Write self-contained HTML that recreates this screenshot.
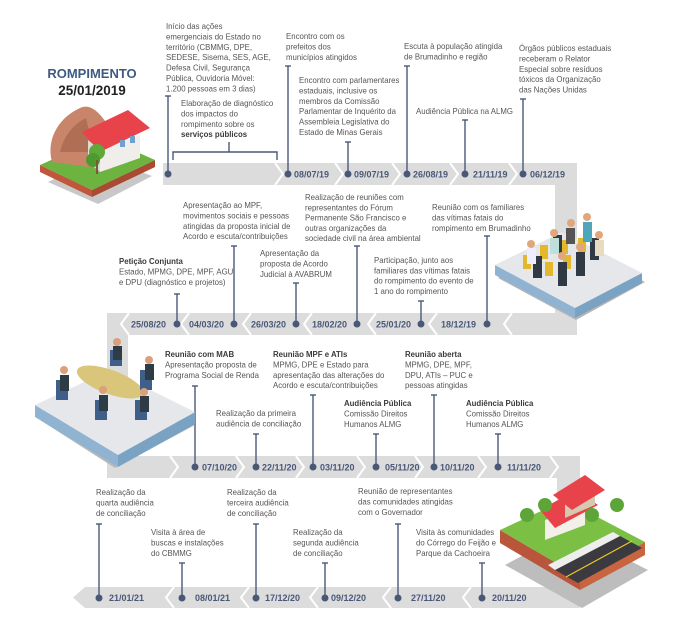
<!DOCTYPE html>
<html><head><meta charset="utf-8"><style>
html,body{margin:0;padding:0;background:#fff;}
svg{display:block;}
.t{font-family:"Liberation Sans",sans-serif;font-size:8.6px;fill:#555;}
.b{font-weight:bold;fill:#3a3a3a;}
.d{font-family:"Liberation Sans",sans-serif;font-size:9px;font-weight:bold;fill:#4a5878;}
</style></head><body>
<svg width="673" height="642" viewBox="0 0 673 642" xmlns="http://www.w3.org/2000/svg">
<!-- bands -->
<g fill="#dcdcdc">
<rect x="163" y="163" width="414" height="22"/>
<rect x="555" y="163" width="22" height="172"/>
<rect x="107" y="313" width="470" height="22"/>
<rect x="107" y="313" width="22" height="165"/>
<rect x="107" y="456" width="473" height="22"/>
<rect x="557" y="456" width="23" height="152"/>
<polygon points="85,587 580,587 580,608 85,608 73,597.5"/>
</g>
<!-- chevrons -->
<g fill="none" stroke="#fff" stroke-width="2">
<polyline points="275,163 283,174 275,185"/>
<polyline points="335,163 343,174 335,185"/>
<polyline points="392,163 400,174 392,185"/>
<polyline points="450,163 458,174 450,185"/>
<polyline points="509,163 517,174 509,185"/>
<polyline points="129,313 121,324 129,335"/>
<polyline points="189,313 181,324 189,335"/>
<polyline points="251,313 243,324 251,335"/>
<polyline points="312,313 304,324 312,335"/>
<polyline points="376,313 368,324 376,335"/>
<polyline points="437,313 429,324 437,335"/>
<polyline points="512,313 504,324 512,335"/>
<polyline points="170,456 178,467 170,478"/>
<polyline points="236,456 244,467 236,478"/>
<polyline points="296,456 304,467 296,478"/>
<polyline points="357,456 365,467 357,478"/>
<polyline points="415,456 423,467 415,478"/>
<polyline points="478,456 486,467 478,478"/>
<polyline points="550,456 558,467 550,478"/>
<polyline points="174,587 166,597.5 174,608"/>
<polyline points="249,587 241,597.5 249,608"/>
<polyline points="318,587 310,597.5 318,608"/>
<polyline points="391,587 383,597.5 391,608"/>
<polyline points="471,587 463,597.5 471,608"/>
</g>
<rect x="128" y="335" width="427" height="121" fill="#fff"/>
<!-- connector lines -->
<g stroke="#4a5878" stroke-width="1.4" fill="#4a5878">
<line x1="168" y1="96" x2="168" y2="174"/><line x1="165" y1="96" x2="171" y2="96"/><circle cx="168" cy="174" r="2.8"/>
<polyline points="173,160 173,152 277,152 277,160" fill="none"/><line x1="229" y1="152" x2="229" y2="142"/>
<line x1="288" y1="66" x2="288" y2="174"/><line x1="285" y1="66" x2="291" y2="66"/><circle cx="288" cy="174" r="2.8"/>
<line x1="348" y1="142" x2="348" y2="174"/><line x1="345" y1="142" x2="351" y2="142"/><circle cx="348" cy="174" r="2.8"/>
<line x1="407" y1="66" x2="407" y2="174"/><line x1="404" y1="66" x2="410" y2="66"/><circle cx="407" cy="174" r="2.8"/>
<line x1="465" y1="120" x2="465" y2="174"/><line x1="462" y1="120" x2="468" y2="120"/><circle cx="465" cy="174" r="2.8"/>
<line x1="523" y1="99" x2="523" y2="174"/><line x1="520" y1="99" x2="526" y2="99"/><circle cx="523" cy="174" r="2.8"/>

<line x1="177" y1="294" x2="177" y2="324"/><line x1="174" y1="294" x2="180" y2="294"/><circle cx="177" cy="324" r="2.8"/>
<line x1="234" y1="246" x2="234" y2="324"/><line x1="231" y1="246" x2="237" y2="246"/><circle cx="234" cy="324" r="2.8"/>
<line x1="296" y1="283" x2="296" y2="324"/><line x1="293" y1="283" x2="299" y2="283"/><circle cx="296" cy="324" r="2.8"/>
<line x1="357" y1="246" x2="357" y2="324"/><line x1="354" y1="246" x2="360" y2="246"/><circle cx="357" cy="324" r="2.8"/>
<line x1="421" y1="301" x2="421" y2="324"/><line x1="418" y1="301" x2="424" y2="301"/><circle cx="421" cy="324" r="2.8"/>
<line x1="487" y1="236" x2="487" y2="324"/><line x1="484" y1="236" x2="490" y2="236"/><circle cx="487" cy="324" r="2.8"/>

<line x1="195" y1="386" x2="195" y2="467"/><line x1="192" y1="386" x2="198" y2="386"/><circle cx="195" cy="467" r="2.8"/>
<line x1="256" y1="434" x2="256" y2="467"/><line x1="253" y1="434" x2="259" y2="434"/><circle cx="256" cy="467" r="2.8"/>
<line x1="313" y1="395" x2="313" y2="467"/><line x1="310" y1="395" x2="316" y2="395"/><circle cx="313" cy="467" r="2.8"/>
<line x1="376" y1="434" x2="376" y2="467"/><line x1="373" y1="434" x2="379" y2="434"/><circle cx="376" cy="467" r="2.8"/>
<line x1="434" y1="395" x2="434" y2="467"/><line x1="431" y1="395" x2="437" y2="395"/><circle cx="434" cy="467" r="2.8"/>
<line x1="498" y1="434" x2="498" y2="467"/><line x1="495" y1="434" x2="501" y2="434"/><circle cx="498" cy="467" r="2.8"/>

<line x1="99" y1="524" x2="99" y2="598"/><line x1="96" y1="524" x2="102" y2="524"/><circle cx="99" cy="598" r="2.8"/>
<line x1="182" y1="563" x2="182" y2="598"/><line x1="179" y1="563" x2="185" y2="563"/><circle cx="182" cy="598" r="2.8"/>
<line x1="256" y1="524" x2="256" y2="598"/><line x1="253" y1="524" x2="259" y2="524"/><circle cx="256" cy="598" r="2.8"/>
<line x1="325" y1="563" x2="325" y2="598"/><line x1="322" y1="563" x2="328" y2="563"/><circle cx="325" cy="598" r="2.8"/>
<line x1="398" y1="524" x2="398" y2="598"/><line x1="395" y1="524" x2="401" y2="524"/><circle cx="398" cy="598" r="2.8"/>
<line x1="482" y1="563" x2="482" y2="598"/><line x1="479" y1="563" x2="485" y2="563"/><circle cx="482" cy="598" r="2.8"/>
</g>
<!-- dates -->
<g class="d">
<text x="294" y="177.5">08/07/19</text><text x="354" y="177.5">09/07/19</text><text x="413" y="177.5">26/08/19</text><text x="473" y="177.5">21/11/19</text><text x="530" y="177.5">06/12/19</text>
<text x="131" y="327.5">25/08/20</text><text x="189" y="327.5">04/03/20</text><text x="251" y="327.5">26/03/20</text><text x="312" y="327.5">18/02/20</text><text x="376" y="327.5">25/01/20</text><text x="441" y="327.5">18/12/19</text>
<text x="202" y="470.5">07/10/20</text><text x="262" y="470.5">22/11/20</text><text x="320" y="470.5">03/11/20</text><text x="385" y="470.5">05/11/20</text><text x="440" y="470.5">10/11/20</text><text x="507" y="470.5">11/11/20</text>
<text x="109" y="601">21/01/21</text><text x="195" y="601">08/01/21</text><text x="265" y="601">17/12/20</text><text x="331" y="601">09/12/20</text><text x="411" y="601">27/11/20</text><text x="492" y="601">20/11/20</text>
</g>
<!-- title -->
<text x="92" y="78" text-anchor="middle" style="font-family:'Liberation Sans',sans-serif;font-size:13px;font-weight:bold;fill:#3f5a82">ROMPIMENTO</text>
<text x="92" y="95" text-anchor="middle" style="font-family:'Liberation Sans',sans-serif;font-size:13.5px;font-weight:bold;fill:#222">25/01/2019</text>
<!-- text blocks -->
<g class="t">
<g transform="translate(166,29) scale(.91,1)"><text><tspan x="0">Início das ações</tspan><tspan x="0" dy="10.4">emergenciais do Estado no</tspan><tspan x="0" dy="10.4">território (CBMMG, DPE,</tspan><tspan x="0" dy="10.4">SEDESE, Sisema, SES, AGE,</tspan><tspan x="0" dy="10.4">Defesa Civil, Segurança</tspan><tspan x="0" dy="10.4">Pública, Ouvidoria Móvel:</tspan><tspan x="0" dy="10.4">1.200 pessoas em 3 dias)</tspan></text></g>
<g transform="translate(181,106) scale(.91,1)"><text><tspan x="0">Elaboração de diagnóstico</tspan><tspan x="0" dy="10.4">dos impactos do</tspan><tspan x="0" dy="10.4">rompimento sobre os</tspan><tspan x="0" dy="10.4" class="b">serviços públicos</tspan></text></g>
<g transform="translate(286,39) scale(.91,1)"><text><tspan x="0">Encontro com os</tspan><tspan x="0" dy="10.4">prefeitos dos</tspan><tspan x="0" dy="10.4">municípios atingidos</tspan></text></g>
<g transform="translate(299,83) scale(.91,1)"><text><tspan x="0">Encontro com parlamentares</tspan><tspan x="0" dy="10.4">estaduais, inclusive os</tspan><tspan x="0" dy="10.4">membros da Comissão</tspan><tspan x="0" dy="10.4">Parlamentar de Inquérito da</tspan><tspan x="0" dy="10.4">Assembleia Legislativa do</tspan><tspan x="0" dy="10.4">Estado de Minas Gerais</tspan></text></g>
<g transform="translate(404,49) scale(.91,1)"><text><tspan x="0">Escuta à população atingida</tspan><tspan x="0" dy="10.4">de Brumadinho e região</tspan></text></g>
<g transform="translate(416,114) scale(.91,1)"><text>Audiência Pública na ALMG</text></g>
<g transform="translate(519,51) scale(.91,1)"><text><tspan x="0">Órgãos públicos estaduais</tspan><tspan x="0" dy="10.4">receberam o Relator</tspan><tspan x="0" dy="10.4">Especial sobre resíduos</tspan><tspan x="0" dy="10.4">tóxicos da Organização</tspan><tspan x="0" dy="10.4">das Nações Unidas</tspan></text></g>

<g transform="translate(119,264) scale(.91,1)"><text><tspan x="0" class="b">Petição Conjunta</tspan><tspan x="0" dy="10.6">Estado, MPMG, DPE, MPF, AGU</tspan><tspan x="0" dy="10.6">e DPU (diagnóstico e projetos)</tspan></text></g>
<g transform="translate(183,208) scale(.91,1)"><text><tspan x="0">Apresentação ao MPF,</tspan><tspan x="0" dy="10.4">movimentos sociais e pessoas</tspan><tspan x="0" dy="10.4">atingidas da proposta inicial de</tspan><tspan x="0" dy="10.4">Acordo e escuta/contribuições</tspan></text></g>
<g transform="translate(260,256) scale(.91,1)"><text><tspan x="0">Apresentação da</tspan><tspan x="0" dy="10.4">proposta de Acordo</tspan><tspan x="0" dy="10.4">Judicial à AVABRUM</tspan></text></g>
<g transform="translate(305,200) scale(.91,1)"><text><tspan x="0">Realização de reuniões com</tspan><tspan x="0" dy="10.3">representantes do Fórum</tspan><tspan x="0" dy="10.3">Permanente São Francisco e</tspan><tspan x="0" dy="10.3">outras organizações da</tspan><tspan x="0" dy="10.3">sociedade civil na área ambiental</tspan></text></g>
<g transform="translate(374,263) scale(.91,1)"><text><tspan x="0">Participação, junto aos</tspan><tspan x="0" dy="10.3">familiares das vítimas fatais</tspan><tspan x="0" dy="10.3">do rompimento do evento de</tspan><tspan x="0" dy="10.3">1 ano do rompimento</tspan></text></g>
<g transform="translate(432,210) scale(.91,1)"><text><tspan x="0">Reunião com os familiares</tspan><tspan x="0" dy="10.4">das vítimas fatais do</tspan><tspan x="0" dy="10.4">rompimento em Brumadinho</tspan></text></g>

<g transform="translate(165,357) scale(.91,1)"><text><tspan x="0" class="b">Reunião com MAB</tspan><tspan x="0" dy="10.6">Apresentação proposta de</tspan><tspan x="0" dy="10.6">Programa Social de Renda</tspan></text></g>
<g transform="translate(216,416) scale(.91,1)"><text><tspan x="0">Realização da primeira</tspan><tspan x="0" dy="10.4">audiência de conciliação</tspan></text></g>
<g transform="translate(273,357) scale(.91,1)"><text><tspan x="0" class="b">Reunião MPF e ATIs</tspan><tspan x="0" dy="10.4">MPMG, DPE e Estado para</tspan><tspan x="0" dy="10.4">apresentação das alterações do</tspan><tspan x="0" dy="10.4">Acordo e escuta/contribuições</tspan></text></g>
<g transform="translate(344,406) scale(.91,1)"><text><tspan x="0" class="b">Audiência Pública</tspan><tspan x="0" dy="10.4">Comissão Direitos</tspan><tspan x="0" dy="10.4">Humanos ALMG</tspan></text></g>
<g transform="translate(405,357) scale(.91,1)"><text><tspan x="0" class="b">Reunião aberta</tspan><tspan x="0" dy="10.4">MPMG, DPE, MPF,</tspan><tspan x="0" dy="10.4">DPU, ATIs – PUC e</tspan><tspan x="0" dy="10.4">pessoas atingidas</tspan></text></g>
<g transform="translate(466,406) scale(.91,1)"><text><tspan x="0" class="b">Audiência Pública</tspan><tspan x="0" dy="10.4">Comissão Direitos</tspan><tspan x="0" dy="10.4">Humanos ALMG</tspan></text></g>

<g transform="translate(96,495) scale(.91,1)"><text><tspan x="0">Realização da</tspan><tspan x="0" dy="10.4">quarta audiência</tspan><tspan x="0" dy="10.4">de conciliação</tspan></text></g>
<g transform="translate(151,535) scale(.91,1)"><text><tspan x="0">Visita à área de</tspan><tspan x="0" dy="10.4">buscas e instalações</tspan><tspan x="0" dy="10.4">do CBMMG</tspan></text></g>
<g transform="translate(227,495) scale(.91,1)"><text><tspan x="0">Realização da</tspan><tspan x="0" dy="10.4">terceira audiência</tspan><tspan x="0" dy="10.4">de conciliação</tspan></text></g>
<g transform="translate(293,535) scale(.91,1)"><text><tspan x="0">Realização da</tspan><tspan x="0" dy="10.4">segunda audiência</tspan><tspan x="0" dy="10.4">de conciliação</tspan></text></g>
<g transform="translate(358,494) scale(.91,1)"><text><tspan x="0">Reunião de representantes</tspan><tspan x="0" dy="10.4">das comunidades atingidas</tspan><tspan x="0" dy="10.4">com o Governador</tspan></text></g>
<g transform="translate(416,535) scale(.91,1)"><text><tspan x="0">Visita às comunidades</tspan><tspan x="0" dy="10.4">do Córrego do Feijão e</tspan><tspan x="0" dy="10.4">Parque da Cachoeira</tspan></text></g>
</g>

<!-- illustration 1: hill + house -->
<g>
<polygon points="48,182 98,204 152,176 100,156" fill="#c8c8c8"/>
<polygon points="40,165 92,190 92,197 40,172" fill="#c0563c"/>
<polygon points="92,190 155,160 155,167 92,197" fill="#a94a33"/>
<polygon points="40,165 92,190 155,160 103,137" fill="#6db33f"/>
<path d="M52,162 C46,140 58,118 80,108 C92,102 102,116 110,128 L112,170 Z" fill="#c9856a"/>
<path d="M60,152 C64,135 74,124 86,118 L94,152 Z" fill="#b06e55"/>
<polygon points="100,150 140,135 140,158 100,172" fill="#f0eeea"/>
<polygon points="88,140 100,150 100,172 88,162" fill="#dedbd5"/>
<polygon points="82,132 128,110 150,128 100,152" fill="#e8434a"/>
<rect x="120" y="140" width="5" height="7" fill="#6fa0d0"/><rect x="130" y="136" width="5" height="7" fill="#6fa0d0"/>
<circle cx="97" cy="152" r="8" fill="#5fa83a"/><circle cx="93" cy="160" r="7" fill="#4e9a30"/><rect x="96" y="160" width="2" height="14" fill="#7a5a3a"/>
</g>

<!-- illustration 2: audience platform -->
<g>
<polygon points="498,278 576,320 645,282 568,242" fill="#b5b5b5"/>
<polygon points="495,265 575,308 575,318 495,275" fill="#8fb3d0"/>
<polygon points="575,308 642,273 642,283 575,318" fill="#7aa2c2"/>
<polygon points="495,265 575,308 642,273 562,232" fill="#e6e7ea"/>
<g fill="#e4b82c"><rect x="523" y="255" width="8" height="14"/><rect x="545" y="262" width="8" height="14"/><rect x="563" y="255" width="8" height="14"/><rect x="540" y="245" width="8" height="14"/><rect x="560" y="240" width="8" height="14"/><rect x="578" y="238" width="8" height="14"/></g>
<g fill="#2f3a45"><rect x="533" y="256" width="9" height="22"/><rect x="558" y="262" width="9" height="24"/><rect x="576" y="252" width="9" height="24"/><rect x="553" y="235" width="9" height="18"/><rect x="590" y="238" width="9" height="22"/></g>
<rect x="527" y="248" width="9" height="16" fill="#eef"/><rect x="550" y="238" width="9" height="16" fill="#bfe0d8"/><rect x="583" y="222" width="9" height="20" fill="#4fa6b8"/><rect x="566" y="228" width="9" height="16" fill="#555"/><rect x="595" y="240" width="9" height="16" fill="#e8dcc0"/>
<g fill="#e0a77c"><circle cx="531" cy="244" r="4"/><circle cx="554" cy="233" r="4"/><circle cx="571" cy="223" r="4"/><circle cx="587" cy="217" r="4"/><circle cx="599" cy="235" r="4"/><circle cx="562" cy="256" r="4"/><circle cx="580" cy="247" r="4"/></g>
</g>

<!-- illustration 3: meeting -->
<g>
<polygon points="40,420 115,468 195,425 120,385" fill="#b8b8b8"/>
<polygon points="35,405 118,455 118,467 35,417" fill="#8fb3d0"/>
<polygon points="118,455 195,412 195,424 118,467" fill="#7aa2c2"/>
<polygon points="35,405 118,455 195,412 110,370" fill="#e6e7ea"/>
<ellipse cx="110" cy="382" rx="35" ry="12" fill="#d9c67a" transform="rotate(20 110 382)"/>
<g fill="#3f5f8a"><rect x="56" y="380" width="12" height="20"/><rect x="95" y="400" width="12" height="20"/><rect x="135" y="400" width="12" height="20"/><rect x="110" y="350" width="12" height="16"/><rect x="140" y="370" width="12" height="20"/></g>
<g fill="#2e3c45"><rect x="60" y="375" width="9" height="16"/><rect x="99" y="395" width="9" height="16"/><rect x="140" y="396" width="9" height="16"/><rect x="113" y="346" width="9" height="14"/><rect x="145" y="364" width="9" height="16"/></g>
<g fill="#d9a07a"><circle cx="64" cy="370" r="4"/><circle cx="103" cy="390" r="4"/><circle cx="144" cy="392" r="4"/><circle cx="117" cy="342" r="4"/><circle cx="149" cy="360" r="4"/></g>
</g>

<!-- illustration 4: houses -->
<g>
<polygon points="505,565 582,608 648,570 570,530" fill="#bdbdbd"/>
<polygon points="500,530 580,577 580,590 500,543" fill="#b8553a"/>
<polygon points="580,577 645,542 645,555 580,590" fill="#c8643f"/>
<polygon points="500,530 580,577 645,542 565,500" fill="#7bbf45"/>
<polygon points="555,570 578,583 642,548 620,536" fill="#3a3a40"/>
<polyline points="566,577 632,541" stroke="#f5d020" stroke-width="1" fill="none"/>
<polygon points="548,565 555,570 620,536 613,532" fill="#eee"/>
<polygon points="545,520 585,505 585,525 545,540" fill="#f3f0ea"/><polygon points="540,510 576,490 598,505 555,528" fill="#e8434a"/>
<polygon points="565,500 595,487 595,505 565,518" fill="#d6c9b0"/><polygon points="553,495 585,475 605,490 572,510" fill="#e8434a"/>
<g fill="#5da538"><circle cx="527" cy="515" r="7"/><circle cx="545" cy="505" r="7"/><circle cx="592" cy="515" r="7"/><circle cx="617" cy="505" r="7"/></g>
</g>
</svg>
</body></html>
